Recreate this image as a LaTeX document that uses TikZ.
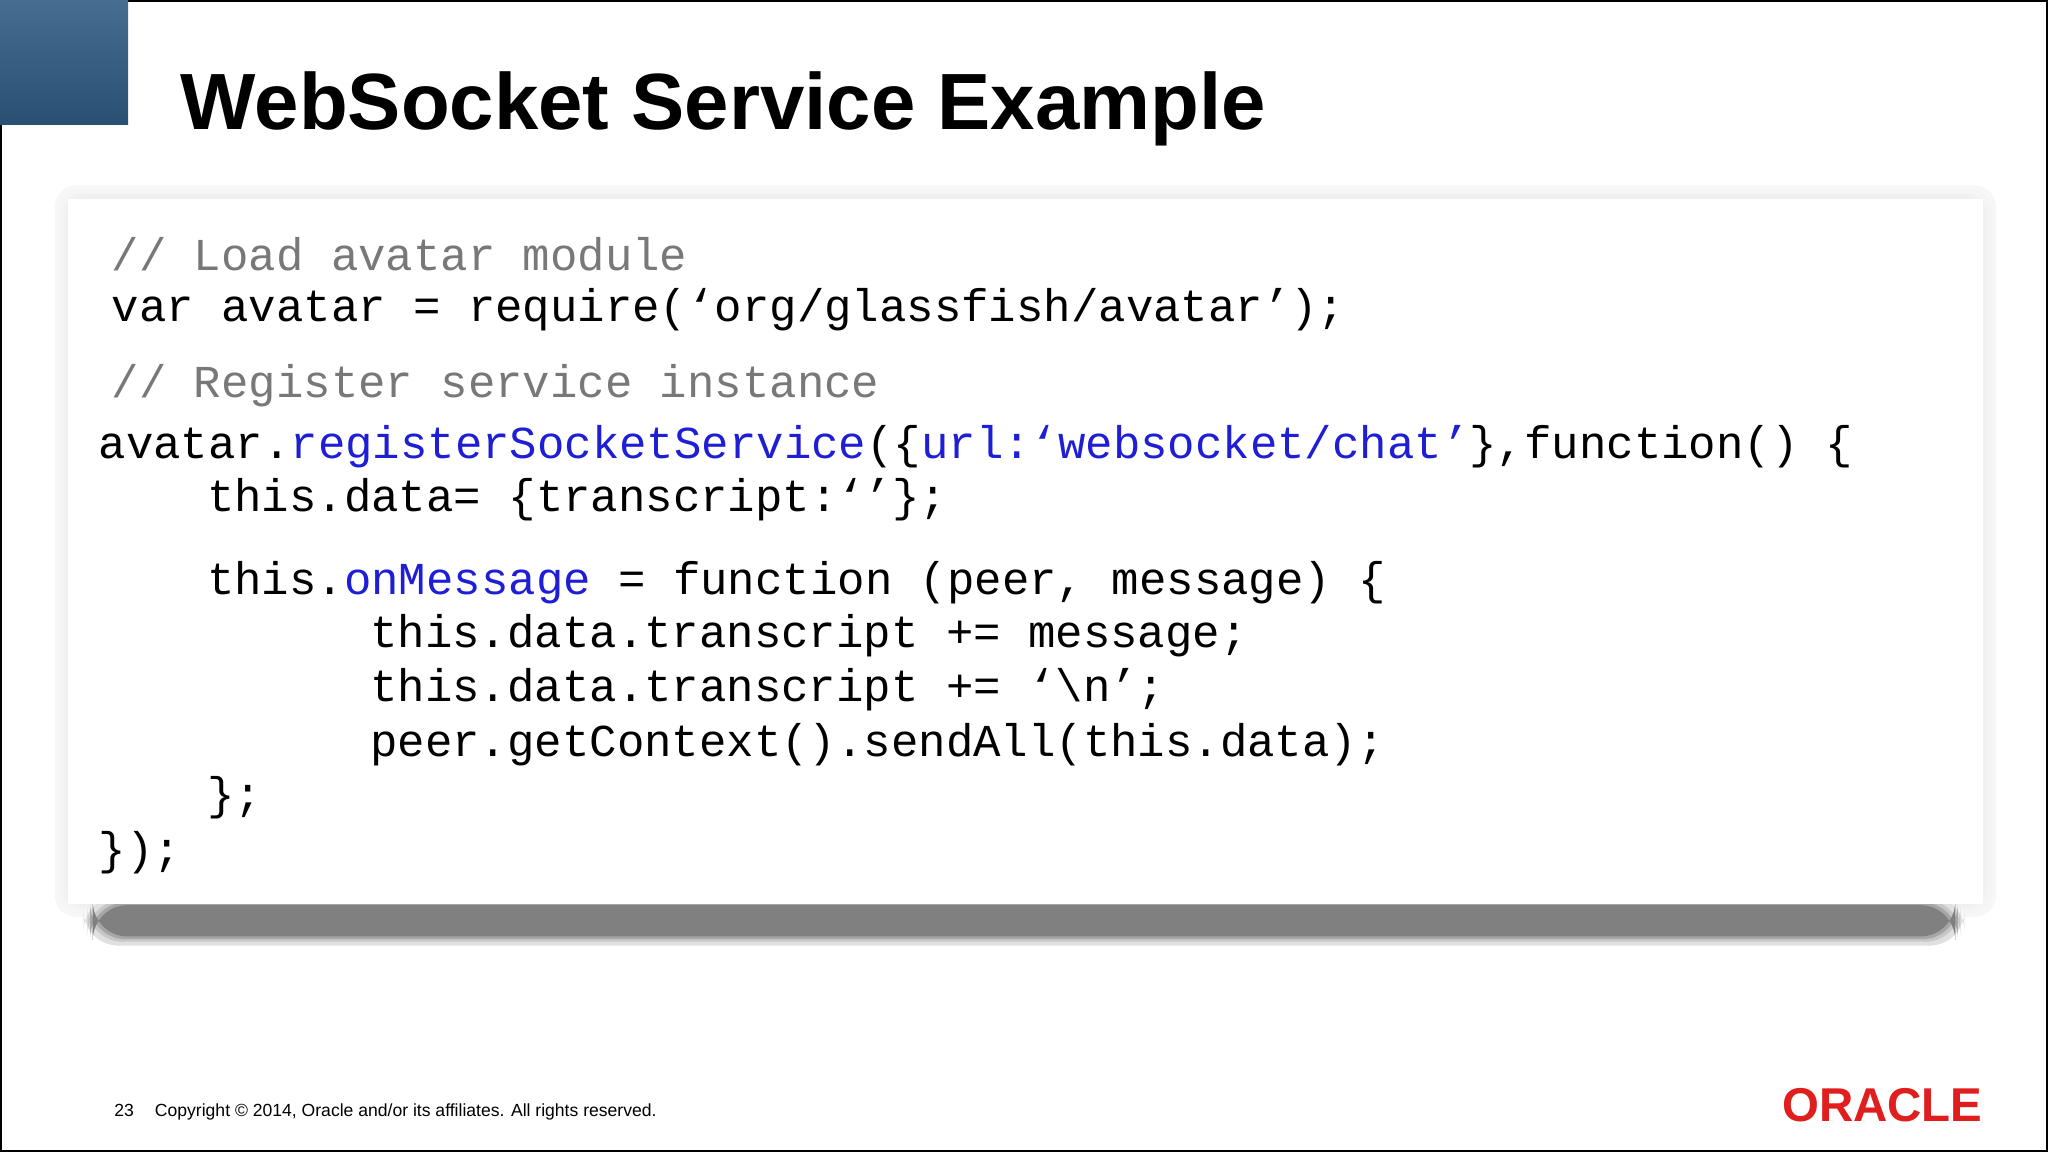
\documentclass[tikz,border=0pt]{standalone}
\usepackage{fontspec}
\setmainfont{Liberation Sans}
\newfontfamily\codef{Liberation Mono}
\definecolor{kw}{RGB}{30,30,215}
\definecolor{cm}{RGB}{120,120,120}
\definecolor{orared}{RGB}{225,30,30}
\begin{document}
\begin{tikzpicture}[x=0.013061cm,y=-0.013061cm,
  code/.style={anchor=base west,inner sep=0pt,font=\codef\fontsize{13}{15}\selectfont}]
\useasboundingbox (0,0) rectangle (1568,882);
\fill[white] (0,0) rectangle (1568,882);
\draw[black,line width=1.2pt] (0,0) rectangle (1568,882);
\shade[top color={rgb,255:red,70;green,110;blue,145},bottom color={rgb,255:red,40;green,80;blue,115}] (0,0) rectangle (98,95);
\node[anchor=base west,inner sep=0pt,font=\bfseries\fontsize{22.7}{26}\selectfont] (title) at (138,99) {WebSocket Service Example};
% soft shadow
\foreach \d/\c in {10/3,7/4,4/5,2/6}{
  \fill[black!\c,rounded corners=6pt] (52-\d,152-\d) rectangle (1518+\d,692+\d);}
\foreach \d/\c in {8/12,5/22,3/35,1/50}{
  \fill[black!\c,rounded corners=10pt] (72-\d,694-\d) rectangle (1496+\d,716+\d);}
\fill[white] (52,152) rectangle (1518,692);
% code
\node[code,text=cm] (l1) at (85,207) {// Load avatar module};
\node[code] (l2) at (85,246) {var avatar = require(‘org/glassfish/avatar’);};
\node[code,text=cm] (l3) at (85,304) {// Register service instance};
\node[code] (l4) at (75,351) {avatar.\textcolor{kw}{registerSocketService}(\{\textcolor{kw}{url:‘websocket/chat’}\},function() \{};
\node[code] (l5) at (158,392) {this.data= \{transcript:‘’\};};
\node[code] (l6) at (158,455) {this.\textcolor{kw}{onMessage} = function (peer, message) \{};
\node[code] (l7) at (283,496) {this.data.transcript += message;};
\node[code] (l8) at (283,537) {this.data.transcript += ‘\textbackslash n’;};
\node[code] (l9) at (283,579) {peer.getContext().sendAll(this.data);};
\node[code] (l10) at (158,620) {\};};
\node[code] (l11) at (75,662) {\});};
% footer
\node[anchor=base west,inner sep=0pt,font=\fontsize{5}{6}\selectfont] (foot) at (87,855) {23\hspace{1.2em}Copyright © 2014, Oracle and/or its affiliates. All rights reserved.};
\node[anchor=base west,inner sep=0pt,text=orared,font=\bfseries\fontsize{13.5}{15}\selectfont] (logo) at (1364,859) {ORACLE};
\end{tikzpicture}
\end{document}
